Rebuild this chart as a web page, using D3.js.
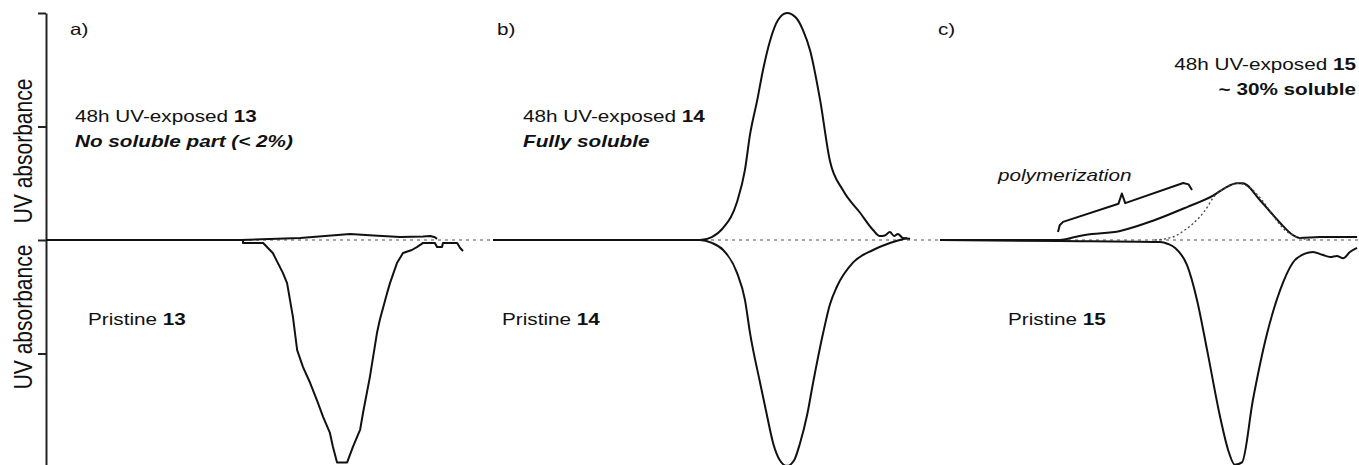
<!DOCTYPE html>
<html>
<head>
<meta charset="utf-8">
<script src="https://cdn.jsdelivr.net/npm/d3@7"></script>
<style>
  body { margin: 0; background: #fff; }
  svg { display: block; }
  text { font-family: "Liberation Sans", Arial, sans-serif; fill: #111; }
</style>
</head>
<body>
<svg id="chart" width="1359" height="465"></svg>
<script>
// elution position (0-100 in each panel), UV absorbance (arbitrary units)
const exposed13 = [[0,0],[46.5,0],[60.5,0.018],[72.4,0.053],[78,0.04],[84.3,0.026],[89.8,0.03],[91.5,0.035],[92.6,0.025],[93.1,0.01]];
const pristine13 = [[0,0],[46.9,0],[46.9,-0.026],[51.7,-0.026],[54,-0.115],[56.4,-0.29],[57.4,-0.38],[58.8,-0.68],[59.8,-0.97],[61.2,-1.12],[62.9,-1.26],[64.5,-1.41],[66,-1.56],[67.6,-1.7],[68.3,-1.82],[69.3,-1.96],[71.7,-1.96],[73.1,-1.82],[74.8,-1.67],[75.5,-1.52],[77.1,-1.21],[78.8,-0.82],[79.5,-0.7],[81.2,-0.47],[81.9,-0.38],[83.6,-0.2],[85,-0.115],[87.1,-0.088],[88.3,-0.062],[89.8,-0.026],[92.6,-0.026],[93.1,-0.062],[94.3,-0.062],[94.5,-0.026],[97.9,-0.026],[98.6,-0.07],[99.3,-0.097]];

const exposed14 = [[0,0],[49.3,0],[52.1,0.026],[54.8,0.106],[58.1,0.335],[60,0.62],[61.2,0.93],[62.9,1.23],[64.3,1.5],[66,1.76],[67.9,1.94],[70,2.0],[72.1,1.96],[73.8,1.85],[75.5,1.67],[77.9,1.23],[80.2,0.7],[83.3,0.44],[87.4,0.24],[90.5,0.088],[92.1,0.035],[93.3,0.04],[94.5,0.07],[95.5,0.035],[96.4,0.053],[97.6,0.018],[99.3,0.01]];
const pristine14 = [[0,0],[49.3,0],[52.1,-0.026],[54.8,-0.088],[58.1,-0.29],[60,-0.53],[61.2,-0.82],[63.6,-1.26],[65.2,-1.54],[66.7,-1.79],[68.3,-1.94],[70,-1.99],[71.7,-1.94],[73.1,-1.79],[74.8,-1.54],[76.2,-1.26],[78.6,-0.82],[80.2,-0.57],[81.9,-0.41],[85.7,-0.2],[90.5,-0.088],[94.5,-0.026],[98.6,0.018]];

const exposed15 = [[0,0],[28.6,0],[32.1,0.026],[34.5,0.044],[42.9,0.08],[50.7,0.17],[58.8,0.29],[65,0.39],[67.9,0.46],[70.7,0.5],[72.1,0.5],[76.2,0.35],[81,0.15],[84,0.044],[85.7,0.018],[90.5,0.026],[99.3,0.026]];
const fit15 = [[51.2,0],[53.6,0.01],[56,0.035],[58.3,0.088],[60.7,0.16],[63.1,0.26],[65,0.37],[67.9,0.46],[70.7,0.5],[73.8,0.46],[76.7,0.35],[79.8,0.19],[82.1,0.088],[84.5,0.035],[88.1,0]];
const pristine15 = [[0,0],[28.6,-0.009],[52.4,-0.018],[54.3,-0.035],[56,-0.07],[58.8,-0.22],[61.2,-0.53],[63.6,-0.97],[66.7,-1.56],[68.6,-1.85],[70.2,-1.98],[71.9,-1.96],[74.5,-1.41],[77.9,-0.82],[81,-0.44],[84,-0.2],[86.9,-0.12],[88.8,-0.106],[91,-0.13],[92.9,-0.15],[94.5,-0.14],[96,-0.16],[97.6,-0.106],[99.3,-0.07]];
const braceC = [[28.1,0.07],[28.5,0.13],[29.3,0.16],[42.5,0.32],[43.3,0.41],[44.1,0.325],[57.9,0.502],[59.2,0.49],[60,0.44]];

const yTicks = [-2, -1, 0, 1, 2];
const panelLabels = ["a)", "b)", "c)"];

const svg = d3.select("#chart");
const SX = 1.27; // horizontal stretch of the original figure

const y = d3.scaleLinear().domain([-2, 2]).range([467, 13]);
const panels = [
  { x: d3.scaleLinear().domain([0, 100]).range([46, 466]), up: exposed13, down: pristine13, curve: d3.curveLinear },
  { x: d3.scaleLinear().domain([0, 100]).range([493, 913]), up: exposed14, down: pristine14, curve: d3.curveMonotoneX },
  { x: d3.scaleLinear().domain([0, 100]).range([940, 1360]), up: exposed15, down: pristine15, curve: d3.curveMonotoneX }
];

// zero line
svg.append("line")
  .attr("x1", 46).attr("x2", 1359)
  .attr("y1", y(0)).attr("y2", y(0))
  .attr("stroke", "#8a8a8a").attr("stroke-width", 1.4)
  .attr("stroke-dasharray", "3,4");

// y axis
svg.append("g")
  .attr("transform", "translate(46,0)")
  .call(d3.axisLeft(y).tickValues(yTicks).tickFormat("").tickSize(8).tickSizeOuter(0))
  .call(g => g.selectAll("path,line").attr("stroke", "#222").attr("stroke-width", 2));

function line(xs, curve) {
  return d3.line().x(d => xs(d[0])).y(d => y(d[1])).curve(curve || d3.curveLinear);
}

panels.forEach(p => {
  [p.up, p.down].forEach(s => {
    svg.append("path").datum(s)
      .attr("d", line(p.x, p.curve))
      .attr("fill", "none").attr("stroke", "#111")
      .attr("stroke-width", 2).attr("stroke-linejoin", "round");
  });
});

// gaussian fit (dotted) and brace in panel c
svg.append("path").datum(fit15)
  .attr("d", line(panels[2].x, d3.curveMonotoneX))
  .attr("fill", "none").attr("stroke", "#444")
  .attr("stroke-width", 1.3).attr("stroke-dasharray", "2,2.5");
svg.append("path").datum(braceC)
  .attr("d", line(panels[2].x))
  .attr("fill", "none").attr("stroke", "#111")
  .attr("stroke-width", 2).attr("stroke-linejoin", "round");

// text helper: stretched horizontally like the source picture
function label(x, yy, parts, opts = {}) {
  const g = svg.append("g")
    .attr("transform", `translate(${x},${yy}) scale(${SX},1)` + (opts.rotate ? ` rotate(${opts.rotate})` : ""));
  const t = g.append("text")
    .attr("text-anchor", opts.anchor || "start")
    .style("font-size", (opts.size || 16.3) + "px");
  parts.forEach(([txt, w, s]) => {
    t.append("tspan").text(txt)
      .style("font-weight", w || "normal")
      .style("font-style", s || "normal");
  });
  return t;
}

label(32, 151, [["UV absorbance"]], { anchor: "middle", rotate: -90, size: 21 });
label(32, 317, [["UV absorbance"]], { anchor: "middle", rotate: -90, size: 21 });

label(70, 35, [[panelLabels[0]]]);
label(497, 35, [[panelLabels[1]]]);
label(938, 35, [[panelLabels[2]]]);

label(75, 122, [["48h UV-exposed "], ["13", "bold"]]);
label(75, 147, [["No soluble part (< 2%)", "bold", "italic"]]);
label(88, 325, [["Pristine "], ["13", "bold"]]);

label(523, 122, [["48h UV-exposed "], ["14", "bold"]]);
label(523, 147, [["Fully soluble", "bold", "italic"]]);
label(502, 325, [["Pristine "], ["14", "bold"]]);

label(1356, 70, [["48h UV-exposed "], ["15", "bold"]], { anchor: "end" });
label(1356, 95, [["~ 30% soluble", "bold"]], { anchor: "end" });
label(998, 181, [["polymerization", "normal", "italic"]]);
label(1008, 325, [["Pristine "], ["15", "bold"]]);
</script>
</body>
</html>
